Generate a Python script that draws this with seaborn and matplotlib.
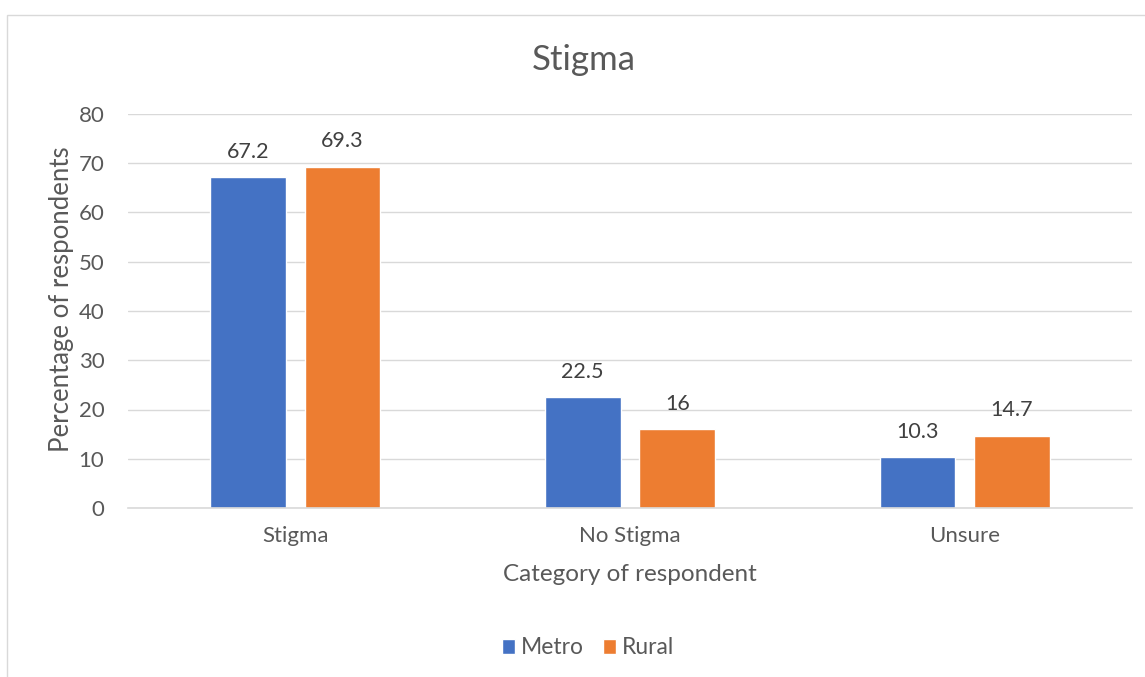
import numpy as np
import pandas as pd
import matplotlib
matplotlib.use("Agg")
import matplotlib.pyplot as plt
import matplotlib.patches as mpatches
import seaborn as sns

# chart data
categories = ["Stigma", "No Stigma", "Unsure"]
groups = ["Metro", "Rural"]
metro_values = [67.2, 22.5, 10.3]
rural_values = [69.3, 16, 14.7]
bar_colors = ["#4472C4", "#ED7D31"]
y_ticks = [0, 10, 20, 30, 40, 50, 60, 70, 80]

df = pd.DataFrame({
    "category": categories * 2,
    "group": [groups[0]] * 3 + [groups[1]] * 3,
    "value": metro_values + rural_values,
})

sns.set_style("white")
plt.rcParams["font.family"] = ["Lato", "DejaVu Sans"]
text_color = "#595959"

fig = plt.figure(figsize=(11.45, 6.77), dpi=100)
ax = fig.add_axes([128 / 1145, 1 - 508 / 677, 1004 / 1145, 394 / 677])

sns.barplot(data=df, x="category", y="value", hue="group", order=categories,
            hue_order=groups, palette=bar_colors, width=0.565, gap=0.2,
            saturation=1, ax=ax, legend=True)

# data labels
for container in ax.containers:
    ax.bar_label(container, labels=[f"{v:g}" for v in container.datavalues],
                 padding=11, fontsize=15.5, color="#404040")

ax.set_ylim(0, 80)
ax.set_xlim(-0.5, 2.5)
ax.set_yticks(y_ticks)
ax.yaxis.grid(True, color="#D9D9D9", linewidth=1)
ax.set_axisbelow(True)
for side in ["top", "right", "left"]:
    ax.spines[side].set_visible(False)
ax.spines["bottom"].set_color("#D9D9D9")
ax.spines["bottom"].set_linewidth(1.2)
ax.tick_params(axis="both", length=0, labelsize=16, labelcolor=text_color)
ax.tick_params(axis="x", pad=13)
ax.tick_params(axis="y", pad=17)

ax.set_xlabel("Category of respondent", fontsize=17.5, color=text_color, labelpad=13)
ax.set_ylabel("Percentage of respondents", fontsize=18.5, color=text_color,
              labelpad=3, y=(508 - 299) / 394)
fig.text(584 / 1145, 1 - 60 / 677, "Stigma", fontsize=25, color=text_color,
         ha="center", va="center")

leg = ax.legend(loc="center", bbox_to_anchor=(588 / 1145, 1 - 648 / 677),
                bbox_transform=fig.transFigure, ncol=2, frameon=False,
                fontsize=16.5, handlelength=0.6, handleheight=0.6,
                handletextpad=0.25, columnspacing=0.8)
for t in leg.get_texts():
    t.set_color(text_color)

# chart frame
frame = mpatches.Rectangle((7 / 1145, -0.1), 2, (677 - 15) / 677 + 0.1,
                           transform=fig.transFigure, fill=False,
                           edgecolor="#D9D9D9", linewidth=1)
fig.patches.append(frame)

fig.savefig("out.png", dpi=100)
